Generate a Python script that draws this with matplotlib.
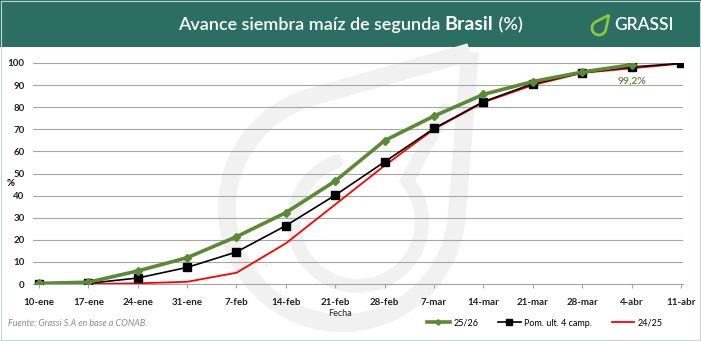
import numpy as np
import matplotlib
matplotlib.use("Agg")
import matplotlib.pyplot as plt
from matplotlib.patches import Rectangle, PathPatch
from matplotlib.path import Path

# data
fechas = ["10-ene", "17-ene", "24-ene", "31-ene", "7-feb", "14-feb", "21-feb",
          "28-feb", "7-mar", "14-mar", "21-mar", "28-mar", "4-abr", "11-abr"]
s_2526 = [0.3, 0.8, 5.9, 11.9, 21.4, 32.3, 46.6, 64.9, 76.0, 85.8, 91.6, 95.9, 99.2]
s_prom = [0.2, 0.3, 2.7, 7.5, 14.5, 26.4, 40.2, 55.3, 70.4, 82.5, 90.6, 95.6, 98.2, 99.8]
s_2425 = [0.0, 0.0, 0.3, 1.0, 5.1, 18.4, 36.0, 53.6, 70.1, 82.2, 90.0, 95.5, 97.6, 99.7]
etiqueta_final = "99,2%"

verde = "#5a8a35"
teal = "#2b6e62"
marca_agua = "#f1f1f1"
W, H = 701, 341

plt.rcParams['font.family'] = ['Lato', 'DejaVu Sans']
fig = plt.figure(figsize=(W / 100, H / 100), dpi=100)
fig.patch.set_facecolor("white")


def px(x, y):
    # image pixel coords (origin top-left) -> figure fraction
    return x / W, 1 - y / H


def leaf_path(cx, cy, r, tx, ty, n=80):
    d = np.hypot(tx - cx, ty - cy)
    ang = np.arctan2(ty - cy, tx - cx)
    off = np.arccos(r / d)
    a = np.linspace(ang + off, ang - off + 2 * np.pi, n)
    xs = cx + r * np.cos(a)
    ys = cy + r * np.sin(a)
    pts = [(tx, ty)] + list(zip(xs, ys)) + [(tx, ty)]
    return [px(x, y) for x, y in pts]


# header band and frame
fig.patches.append(Rectangle((0, 1 - 47 / H), 1, 47 / H, transform=fig.transFigure,
                             facecolor=teal, edgecolor="none", zorder=-2))
fig.patches.append(Rectangle((0.001, 0.002), 0.998, 0.996, transform=fig.transFigure,
                             facecolor="none", edgecolor="#c8d4d2", lw=0.8, zorder=-2))

# watermark leaf behind the plot
fig.patches.append(PathPatch(Path(leaf_path(342, 208, 115, 470, 52)),
                             transform=fig.transFigure, facecolor="none",
                             edgecolor=marca_agua, lw=13, zorder=-1,
                             joinstyle="round"))
a = np.linspace(np.deg2rad(-40), np.deg2rad(250), 60)
inner = [px(445, 110)] + [px(358 + 64 * np.cos(t), 222 + 64 * np.sin(t)) for t in a]
fig.patches.append(PathPatch(Path(inner), transform=fig.transFigure, facecolor="none",
                             edgecolor=marca_agua, lw=10, zorder=-1, capstyle="round"))

ax = fig.add_axes([33 / W, (H - 284) / H, (683 - 33) / W, (284 - 63) / H])
ax.patch.set_alpha(0)

x = np.arange(len(fechas))
ax.plot(x[:len(s_2425)], s_2425, color="#ff0000", lw=1.3, zorder=3, label="24/25")
ax.plot(x[:len(s_prom)], s_prom, color="black", lw=1.2, marker="s", ms=5.5,
        zorder=4, label="Pom. ult. 4 camp.")
ax.plot(x[:len(s_2526)], s_2526, color=verde, lw=2.6, marker="D", ms=4,
        zorder=5, label="25/26")

ax.annotate(etiqueta_final, (x[len(s_2526) - 1], s_2526[-1]), xytext=(0, -12),
            textcoords="offset points", ha="center", va="center",
            color="#6e8a40", fontsize=7.5, fontweight="bold")

ax.set_xlim(-0.12, 13.04)
ax.set_ylim(0, 100)
ax.set_yticks(range(0, 101, 10))
ax.set_xticks(x)
ax.set_xticklabels(fechas)
ax.grid(axis="y", color="#a6a6a6", lw=0.8)
ax.set_axisbelow(True)
for s in ["left", "right", "top"]:
    ax.spines[s].set_visible(False)
ax.spines["bottom"].set_color("#a6a6a6")
ax.tick_params(axis="y", length=0, labelsize=7, pad=6)
ax.tick_params(axis="x", length=3, color="#a6a6a6", labelsize=7, pad=7)
for lab in ax.get_xticklabels() + ax.get_yticklabels():
    lab.set_fontweight("bold")
    lab.set_color("#222222")

fig.text(*px(11, 183), "%", ha="center", va="center", fontsize=7, fontweight="bold")
fig.text(*px(340, 313), "Fecha", ha="center", va="center", fontsize=6.5,
         color="#222222")
fig.text(*px(8, 323), "Fuente: Grassi S.A en base a CONAB.", ha="left", va="center",
         fontsize=6.5, style="italic", color="#8a8a8a")

# title, pieces chained one after another
t1 = fig.text(*px(178, 25), "Avance siembra maíz de segunda ", ha="left",
              va="center", fontsize=13, color="white", fontweight="semibold")
t2 = fig.text(0, 0, "Brasil", ha="left", va="center", fontsize=14, color="white",
              fontweight="bold")
t3 = fig.text(0, 0, " (%)", ha="left", va="center", fontsize=13, color="white",
              fontweight="semibold")
fig.canvas.draw()
r = fig.canvas.get_renderer()
inv = fig.transFigure.inverted()
b1 = t1.get_window_extent(r)
t2.set_position(inv.transform((b1.x1, (b1.y0 + b1.y1) / 2)))
b2 = t2.get_window_extent(r)
t3.set_position(inv.transform((b2.x1, (b1.y0 + b1.y1) / 2)))

# logo
fig.text(*px(614, 25), "GRASSI", ha="left", va="center", fontsize=12.5,
         color="white", fontweight="semibold")
fig.patches.append(PathPatch(Path(leaf_path(599, 28, 7, 609, 15)),
                             transform=fig.transFigure, facecolor="none",
                             edgecolor="#8cc63f", lw=2, zorder=2))

handles, labels = ax.get_legend_handles_labels()
order = [2, 1, 0]
fig.legend([handles[i] for i in order], [labels[i] for i in order],
           loc="center", bbox_to_anchor=(545 / W, 1 - 323 / H), ncol=3, frameon=False,
           fontsize=6.5, handlelength=2.5, columnspacing=2.2, handletextpad=0.4,
           markerscale=0.7)

fig.savefig("out.png", dpi=100)
